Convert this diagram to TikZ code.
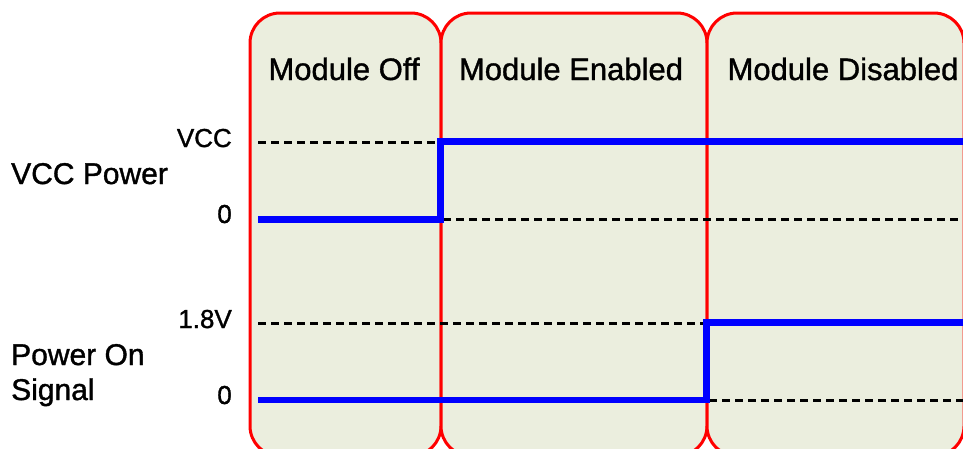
\documentclass[tikz,border=0pt]{standalone}
\usepackage{fontspec}
\setmainfont[FakeBold=1.2]{Liberation Sans}
\definecolor{phase}{RGB}{235,238,222}
\definecolor{phaseedge}{RGB}{255,0,0}
\definecolor{trace}{RGB}{0,0,255}
\tikzstyle{phasebox}=[draw=phaseedge, fill=phase, line width=3pt, rounded corners=30pt, outer sep=0pt, inner sep=0pt, anchor=north west, minimum height=443pt]
\tikzstyle{header}=[anchor=base, inner sep=0pt, font=\fontsize{31}{37}\selectfont]
\tikzset{signame/.style={anchor=base west, inner sep=0pt, align=left, font=\fontsize{30}{35}\selectfont}}
\tikzset{levelname/.style={anchor=base east, inner sep=0pt, font=\fontsize{26}{31}\selectfont}}
\tikzset{ref/.style={line width=3pt, dash pattern=on 8pt off 5pt}}
\tikzset{wave/.style={draw=trace, line width=6.5pt}}

\begin{document}
\begin{tikzpicture}[x=1pt, y=-1pt]
  \useasboundingbox (0,0) rectangle (963,448);
  \clip (0,0) rectangle (963,448);

  %% Phases
  \draw (250,13) node[phasebox, minimum width=191pt] (P1) {};
  \draw (441,13) node[phasebox, minimum width=266pt] (P2) {};
  \draw (707,13) node[phasebox, minimum width=257pt] (P3) {};

  \draw (344,80) node[header] (H1) {Module Off};
  \draw (571,80) node[header] (H2) {Module Enabled};
  \draw (843,80) node[header] (H3) {Module Disabled};

  %% Signal names and levels
  \draw (11,184) node[signame] (vccname) {VCC Power};
  \draw (11,400) node[signame] (pwrname) {Power On\\Signal};

  \draw (232,147) node[levelname] (vcchi) {VCC};
  \draw (232,223) node[levelname] (vcclo) {0};
  \draw (232,328) node[levelname] (pwrhi) {1.8V};
  \draw (232,404) node[levelname] (pwrlo) {0};

  %% Corner points of the traces
  \coordinate (A0) at (258,219.5);
  \coordinate (A1) at (440.5,219.5);
  \coordinate (A2) at (440.5,141.5);
  \coordinate (A3) at (963,141.5);
  \coordinate (a0) at (258,142);
  \coordinate (a1) at (439,142);
  \coordinate (a2) at (443,219);
  \coordinate (a3) at (963,219);

  \coordinate (B0) at (258,400);
  \coordinate (B1) at (706.5,400);
  \coordinate (B2) at (706.5,322.5);
  \coordinate (B3) at (963,322.5);
  \coordinate (b0) at (258,323);
  \coordinate (b1) at (704,323);
  \coordinate (b2) at (709,400);
  \coordinate (b3) at (963,400);

  %% Reference levels
  \draw[ref] (a0) -- (a1);
  \draw[ref] (a2) -- (a3);
  \draw[ref] (b0) -- (b1);
  \draw[ref] (b2) -- (b3);

  %% Traces
  \draw[wave] (A0) -- (A1) -- (A2) -- (A3);
  \draw[wave] (B0) -- (B1) -- (B2) -- (B3);
\end{tikzpicture}
\end{document}
